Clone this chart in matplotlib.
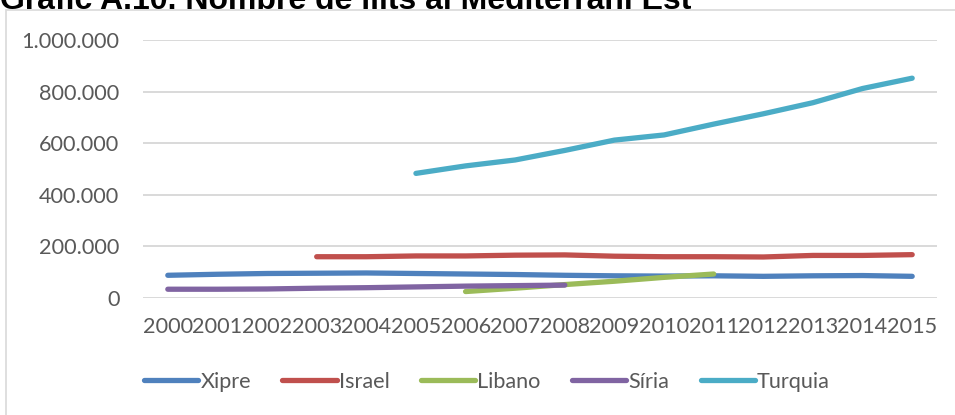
import matplotlib
matplotlib.use("Agg")
import matplotlib.pyplot as plt
import matplotlib.ticker as mticker
from matplotlib.patches import Rectangle
import numpy as np

years = [str(y) for y in range(2000, 2016)]

xipre = [88000, 92000, 95000, 96000, 97000, 95000, 93000, 91000, 88000, 86000,
         85000, 86000, 84000, 86000, 87000, 84000]
israel = [None, None, None, 160000, 160000, 163000, 163000, 166000, 167000, 162000,
          160000, 160000, 159000, 165000, 165000, 168000]
libano = [None] * 6 + [25000, 38000, 52000, 65000, 80000, 93000] + [None] * 4
siria = [34000, 34000, 35000, 38000, 40000, 43000, 46000, 48000, 50000] + [None] * 7
turquia = [None] * 5 + [483000, 512000, 535000, 572000, 612000, 632000, 674000,
                        714000, 757000, 812000, 852000]

series = [("Xipre", xipre, "#4F81BD"),
          ("Israel", israel, "#C0504D"),
          ("Libano", libano, "#9BBB59"),
          ("Síria", siria, "#8064A2"),
          ("Turquia", turquia, "#4BACC6")]

title = "Gràfic A.10. Nombre de llits al Mediterrani Est"

W, H = 955, 415
fig = plt.figure(figsize=(W / 100, H / 100), dpi=100)
fig.patch.set_facecolor("white")

# chart border
fig.patches.append(Rectangle((5.5 / W, -0.1), 1.2, 1 - 10.5 / H + 0.1,
                             transform=fig.transFigure, fill=False,
                             edgecolor="#D9D9D9", linewidth=1.2))

fig.text(0.0, 1 - 9 / H, title, fontsize=23, fontweight="bold",
         family="Liberation Sans", color="black", va="baseline", ha="left")

ax = fig.add_axes([143 / W, 1 - 298 / H, (937 - 143) / W, (298 - 40) / H])
x = np.arange(len(years))
for name, vals, col in series:
    y = np.array([np.nan if v is None else v for v in vals], dtype=float)
    ax.plot(x, y, color=col, linewidth=3.8, solid_capstyle="round",
            solid_joinstyle="round", label=name)

ax.set_xlim(-0.5, len(years) - 0.5)
ax.set_ylim(0, 1000000)
ax.set_yticks(np.arange(0, 1000001, 200000))
ax.yaxis.set_major_formatter(mticker.FuncFormatter(
    lambda v, p: f"{int(v):,}".replace(",", ".")))
ax.set_xticks(x)
ax.set_xticklabels(years)
ax.grid(axis="y", color="#D9D9D9", linewidth=1.4)
ax.set_axisbelow(True)
for s in ax.spines.values():
    s.set_visible(False)
ax.tick_params(axis="both", length=0, colors="#595959", labelsize=15.6)
ax.tick_params(axis="y", pad=17)
ax.tick_params(axis="x", pad=14)
for lab in ax.get_xticklabels() + ax.get_yticklabels():
    lab.set_family("Lato")

leg = fig.legend(loc="center", bbox_to_anchor=(487 / W, 1 - 382 / H), ncol=5,
                 frameon=False, handlelength=2.5, handletextpad=0.1,
                 columnspacing=1.45, prop={"family": "Lato", "size": 15.6})
for t in leg.get_texts():
    t.set_color("#595959")
for h in leg.legend_handles:
    h.set_linewidth(3.8)

fig.savefig("out.png", dpi=100, facecolor="white")
